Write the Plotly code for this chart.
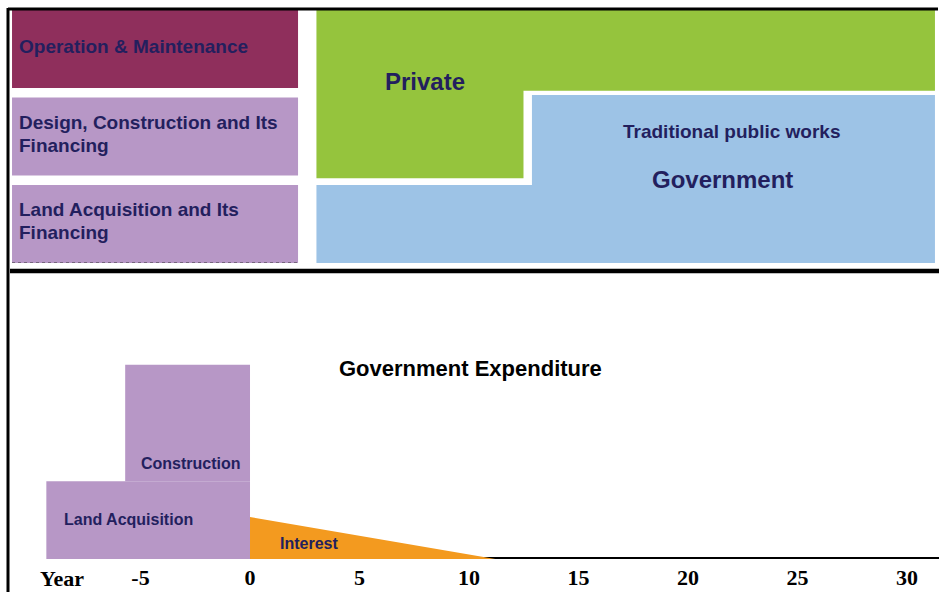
import plotly.graph_objects as go

# ---------------- data ----------------
# Project stages, bottom row first
stages = [
    "Land Acquisition and Its<br>Financing",
    "Design, Construction and Its<br>Financing",
    "Operation & Maintenance",
]
# Two procurement schemes side by side; for each, the first stage (row index)
# from which the private sector is responsible
schemes = ["PFI", "Traditional public works"]
private_from_stage = [1, 2]

# Government expenditure profile (years relative to opening, arbitrary amounts)
spend_items = ["Land Acquisition", "Construction"]
spend_start_year = [-9.3, -5.7]
spend_end_year = [0, 0]
spend_amount = [3.0, 4.5]          # stacked: construction sits on land
interest_amount = 1.62             # at year 0, paid down linearly
interest_end_year = 11.2
tick_years = [-5, 0, 5, 10, 15, 20, 25, 30]
tick_labels = [str(t) for t in tick_years]

# ---------------- styles ----------------
NAVY = "#231F5E"
C_OM = "#8F2F5C"
C_LAV = "#B797C6"
C_GREEN = "#95C43D"
C_BLUE = "#9DC3E6"
C_ORANGE = "#F39A1F"
SANS = "Liberation Sans, Arial, sans-serif"
SERIF = "Liberation Serif, Times New Roman, serif"

stage_colors = [C_LAV, C_LAV, C_OM]

fig = go.Figure()

# ---------------- top diagram (x2 / y2, units: % width, stage rows) ----------------
ROW_H = 0.891          # box height within one row pitch
LINE_STEP = 0.263      # spacing of wrapped label lines, in row units
LABEL_X0, LABEL_X1 = 1.28, 31.74
COL_X0, COL_SPLIT, COL_X1 = 33.7, 56.2, 99.57
GAP_X = 0.45


def poly(xs, ys, color, xa="x2", ya="y2"):
    fig.add_trace(go.Scatter(
        x=xs, y=ys, fill="toself", fillcolor=color, mode="lines",
        line=dict(width=0, color=color), hoverinfo="skip",
        xaxis=xa, yaxis=ya))


for i, (name, col) in enumerate(zip(stages, stage_colors)):
    poly([LABEL_X0, LABEL_X1, LABEL_X1, LABEL_X0],
         [i, i, i + ROW_H, i + ROW_H], col)
    lines = name.split("<br>")
    mid = i + ROW_H / 2 + 0.03
    for k, txt in enumerate(lines):
        yk = mid + (len(lines) - 1) / 2 * LINE_STEP - k * LINE_STEP
        fig.add_annotation(x=LABEL_X0 + 0.55, y=yk, xref="x2", yref="y2",
                           text=f"<b>{txt}</b>", showarrow=False,
                           xanchor="left", yanchor="middle",
                           font=dict(family=SANS, size=19, color=NAVY))

top = len(stages) - 1 + ROW_H
pa, pb = private_from_stage
# private share: step polygon from each scheme's first private stage upward
g_a, g_b = pa - 0.03, pb - 0.03
poly([COL_X0, COL_X1, COL_X1, COL_SPLIT - GAP_X, COL_SPLIT - GAP_X, COL_X0],
     [top, top, g_b, g_b, g_a, g_a], C_GREEN)
# government share: everything below
b_a, b_b = pa - 1 + ROW_H, pb - 1 + ROW_H + 0.03
poly([COL_X0, COL_X1, COL_X1, COL_SPLIT + GAP_X, COL_SPLIT + GAP_X, COL_X0],
     [0, 0, b_b, b_b, b_a, b_a], C_BLUE)

centre = dict(showarrow=False, xanchor="center", yanchor="middle")
fig.add_annotation(x=45.26, y=2.08, xref="x2", yref="y2", text="<b>Private</b>",
                   font=dict(family=SANS, size=24, color=NAVY), **centre)
fig.add_annotation(x=77.85, y=1.5, xref="x2", yref="y2",
                   text=f"<b>{schemes[1]}</b>",
                   font=dict(family=SANS, size=19, color=NAVY), **centre)
fig.add_annotation(x=76.9, y=0.96, xref="x2", yref="y2", text="<b>Government</b>",
                   font=dict(family=SANS, size=24, color=NAVY), **centre)

# ---------------- bottom chart: government expenditure ----------------
# axis base line
fig.add_trace(go.Scatter(x=[-8.1, 31.5], y=[0, 0], mode="lines",
                         line=dict(color="black", width=4), hoverinfo="skip"))

base = 0.0
for name, x0, x1, amt in zip(spend_items, spend_start_year, spend_end_year, spend_amount):
    poly([x0, x1, x1, x0], [base, base, base + amt, base + amt], C_LAV, "x", "y")
    base += amt

poly([0, 0, interest_end_year], [0, interest_amount, 0], C_ORANGE, "x", "y")

lab = dict(xref="x", yref="y", font=dict(family=SANS, size=16, color=NAVY), **centre)
fig.add_annotation(x=-5.53, y=1.51, text="<b>Land Acquisition</b>", **lab)
fig.add_annotation(x=-2.69, y=3.67, text="<b>Construction</b>", **lab)
fig.add_annotation(x=2.69, y=0.58, text="<b>Interest</b>", **lab)
fig.add_annotation(x=10.05, y=7.37, xref="x", yref="y",
                   text="<b>Government Expenditure</b>",
                   font=dict(family=SANS, size=22, color="black"), **centre)
fig.add_annotation(x=62 / 939, y=1 - 578 / 592, xref="paper", yref="paper",
                   text="<b>Year</b>",
                   font=dict(family=SERIF, size=22, color="black"), **centre)

# ---------------- frame lines ----------------
frame = [
    dict(x0=8 / 939, x1=938 / 939, y0=1 - 9 / 592, y1=1 - 9 / 592, w=3),
    dict(x0=8 / 939, x1=8 / 939, y0=1 - 8 / 592, y1=0, w=3),
    dict(x0=10 / 939, x1=1, y0=1 - 271 / 592, y1=1 - 271 / 592, w=4.5),
]
for f in frame:
    fig.add_shape(type="line", xref="paper", yref="paper",
                  x0=f["x0"], x1=f["x1"], y0=f["y0"], y1=f["y1"],
                  line=dict(color="black", width=f["w"]))
fig.add_shape(type="line", xref="x2", yref="y2", x0=LABEL_X0, x1=LABEL_X1,
              y0=0, y1=0, line=dict(color="#333333", width=1, dash="dot"))

fig.update_layout(
    width=939, height=592, margin=dict(l=0, r=0, t=0, b=0),
    paper_bgcolor="white", plot_bgcolor="white", showlegend=False,
    xaxis=dict(domain=[0, 1], range=[-11.416, 31.461], showgrid=False,
               zeroline=False, showline=False, ticks="",
               tickvals=tick_years, ticktext=tick_labels,
               tickfont=dict(family=SERIF, size=22, color="black", weight="bold"),
               ticklabelstandoff=3, anchor="y"),
    yaxis=dict(domain=[1 - 559 / 592, 1 - 300 / 592], range=[0, 10],
               visible=False, anchor="x"),
    xaxis2=dict(domain=[0, 1], range=[0, 100], visible=False, anchor="y2"),
    yaxis2=dict(domain=[1 - 263 / 592, 1 - 0.5 / 592], range=[0, 3],
                visible=False, anchor="x2"),
)

fig.write_html("out.html")
